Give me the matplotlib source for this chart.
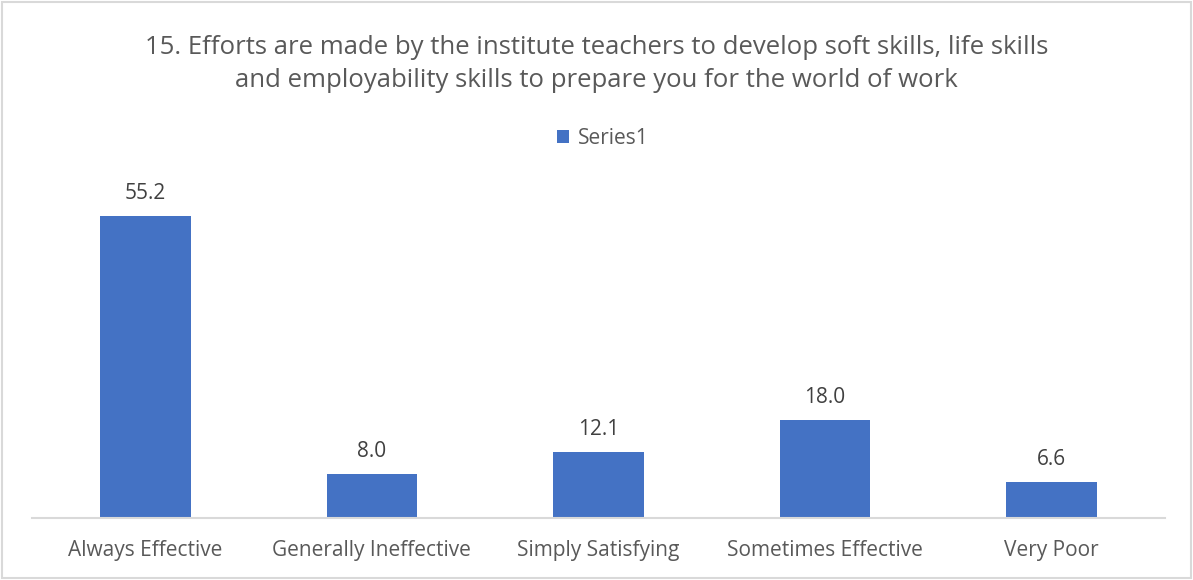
import matplotlib
matplotlib.use("Agg")
import matplotlib.pyplot as plt
from matplotlib.patches import Rectangle

categories = ["Always Effective", "Generally Ineffective", "Simply Satisfying", "Sometimes Effective", "Very Poor"]
values = [55.2, 8.0, 12.1, 18.0, 6.6]
series_name = "Series1"
title = "15. Efforts are made by the institute teachers to develop soft skills, life skills\nand employability skills to prepare you for the world of work"

plt.rcParams['font.family'] = ['Open Sans', 'DejaVu Sans']
W, H = 1193, 580
fig = plt.figure(figsize=(W/100, H/100), dpi=100)
fig.patch.set_facecolor("white")
fig.add_artist(Rectangle((2/W, 2/H), 1-4/W, 1-4/H, transform=fig.transFigure,
                         fill=False, edgecolor="#d9d9d9", linewidth=1.5))

left, right, top, bottom = 32, 1165, 190, 518
ax = fig.add_axes([left/W, 1-bottom/H, (right-left)/W, (bottom-top)/H])
x = range(len(categories))
bars = ax.bar(x, values, width=0.4, color="#4472c4", label=series_name)
ax.set_xlim(-0.5, len(categories)-0.5)
ax.set_ylim(0, 60)
for b, v in zip(bars, values):
    ax.text(b.get_x()+b.get_width()/2, v+2.2, f"{v:.1f}", ha="center", va="bottom",
            fontsize=15, color="#404040")
ax.set_xticks(list(x))
ax.set_xticklabels(categories, fontsize=15, color="#595959")
ax.tick_params(axis="x", length=0, pad=16)
ax.set_yticks([])
for s in ["top", "right", "left"]:
    ax.spines[s].set_visible(False)
ax.spines["bottom"].set_color("#d9d9d9")
ax.spines["bottom"].set_linewidth(1.5)

fig.text(0.5, 1-64/H, title, ha="center", va="center", fontsize=18.5, color="#595959",
         linespacing=1.4)
leg = fig.legend(handles=[bars], labels=[series_name], loc="center", bbox_to_anchor=(0.5+6/W, 1-138/H),
                 frameon=False, fontsize=15, handlelength=0.6, handleheight=0.6, handletextpad=0.4)
for t in leg.get_texts():
    t.set_color("#595959")

fig.savefig("out.png", dpi=100)
